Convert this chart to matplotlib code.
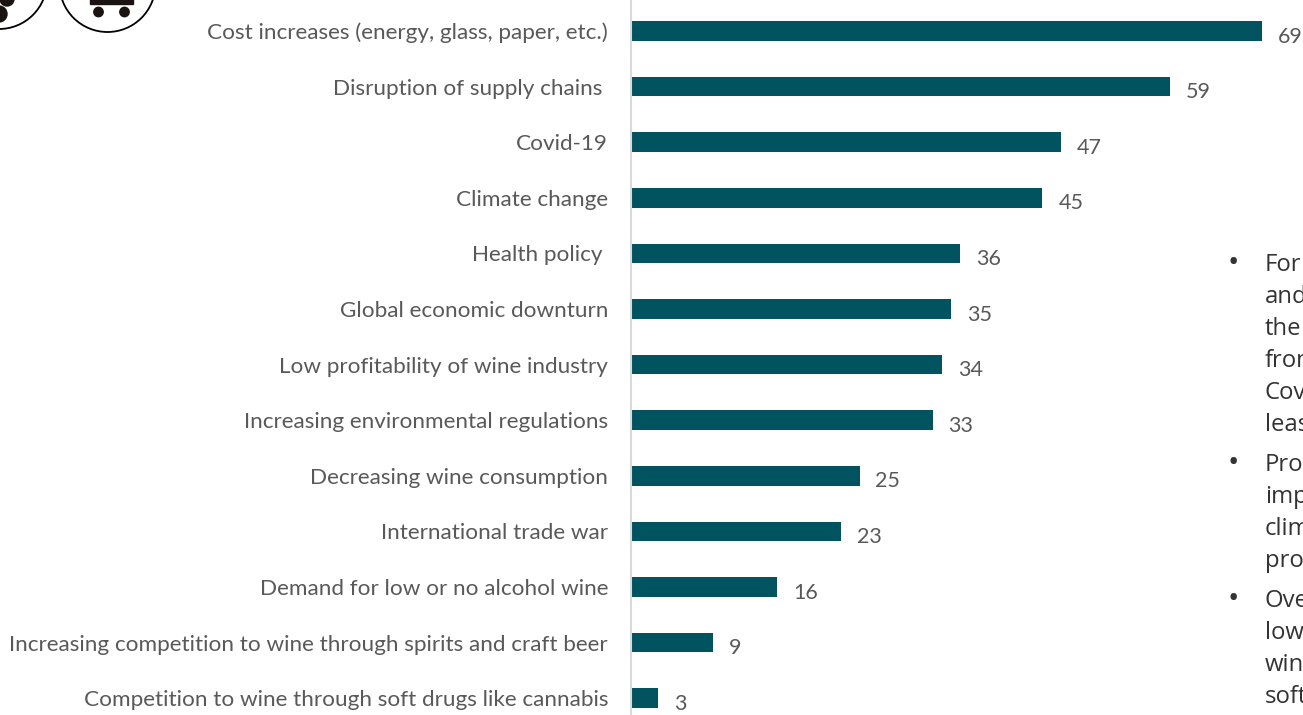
import matplotlib
matplotlib.use("Agg")
import matplotlib.pyplot as plt
from matplotlib.patches import Circle, Rectangle

categories = [
    "Cost increases (energy, glass, paper, etc.)",
    "Disruption of supply chains ",
    "Covid-19",
    "Climate change",
    "Health policy ",
    "Global economic downturn",
    "Low profitability of wine industry",
    "Increasing environmental regulations",
    "Decreasing wine consumption",
    "International trade war",
    "Demand for low or no alcohol wine",
    "Increasing competition to wine through spirits and craft beer",
    "Competition to wine through soft drugs like cannabis",
]
values = [69, 59, 47, 45, 36, 35, 34, 33, 25, 23, 16, 9, 3]

# side notes, cut off by the right edge of the slide
notes = [
    ["For", "and", "the", "from", "Covid", "least"],
    ["Producers", "impact", "climate", "profit"],
    ["Overall", "low", "wine", "soft"],
]

BAR_COLOR = "#00535F"
LABEL_COLOR = "#595959"
NOTE_COLOR = "#333333"

plt.rcParams["font.family"] = ["Lato", "DejaVu Sans"]

W, H = 1303, 715
LEFT = 631
fig = plt.figure(figsize=(W / 100, H / 100), dpi=100)

ax = fig.add_axes([LEFT / W, 0, (W - LEFT) / W, 1])
positions = list(range(len(categories)))
ax.barh(positions, values, height=0.355, color=BAR_COLOR)

# 55.6 px between rows, first row centred 31 px from the top
row = 55.6
ax.set_ylim((H - 31) / row, -31 / row)
ax.set_xlim(0, (W - LEFT) / 9.14)
ax.set_yticks(positions)
ax.set_yticklabels(categories, fontsize=16.2, color=LABEL_COLOR)
ax.tick_params(axis="y", length=0, pad=16.5)
ax.set_xticks([])
for side in ["top", "right", "bottom"]:
    ax.spines[side].set_visible(False)
ax.spines["left"].set_color("#D9D9D9")
ax.spines["left"].set_linewidth(1.5)

for pos, val in zip(positions, values):
    ax.annotate(str(val), (val, pos), xytext=(11.5, -4), textcoords="offset points",
                va="center", ha="left", fontsize=15.5, color=LABEL_COLOR,
                annotation_clip=False)

# overlay in slide pixels for the icons and the notes
over = fig.add_axes([0, 0, 1, 1], facecolor="none")
over.set_xlim(0, W)
over.set_ylim(H, 0)
over.axis("off")

over.add_patch(Circle((-1, -19), 48, fc="white", ec="black", lw=1.3))
over.add_patch(Circle((107.5, -16), 48, fc="white", ec="black", lw=1.3))
for x, y, r in [(-1, 14, 8), (7, -1, 7)]:
    over.add_patch(Circle((x, y), r, color="#1A1311"))
over.add_patch(Rectangle((90, -2), 43, 6, color="#1A1311"))
for x in [98.5, 124.5]:
    over.add_patch(Circle((x, 12), 4.7, color="#1A1311"))

y = 262
for block in notes:
    over.text(1233.5, y + 2, "•", family=["Open Sans", "DejaVu Sans"], fontsize=22, color=NOTE_COLOR,
              ha="center", va="center")
    for line in block:
        over.text(1265, y, line, family=["Open Sans", "DejaVu Sans"], fontsize=17.2, color=NOTE_COLOR,
                  ha="left", va="center_baseline", clip_on=False)
        y += 32
    y += 8

fig.savefig("out.png", dpi=100)
